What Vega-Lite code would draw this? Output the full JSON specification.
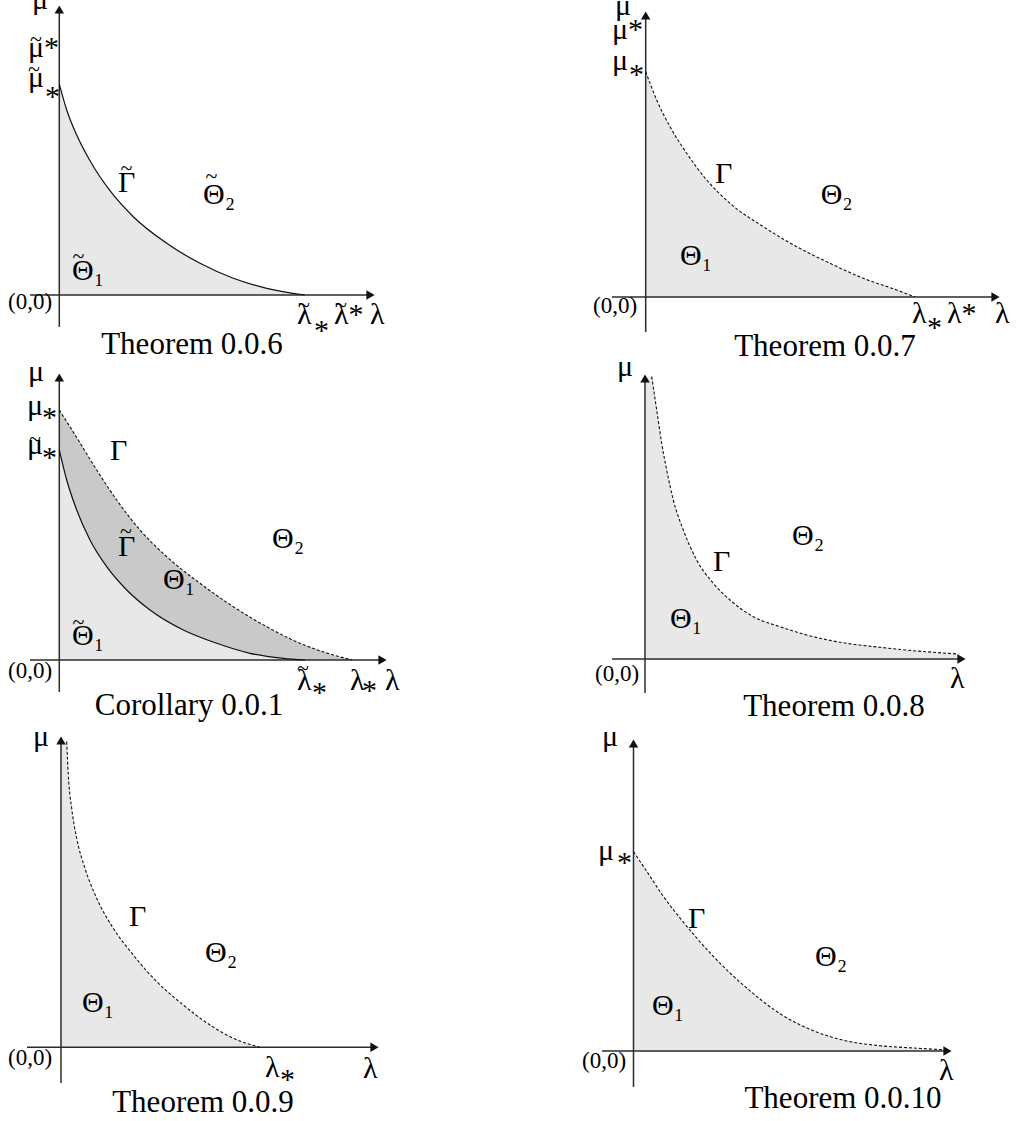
{
 "$schema": "https://vega.github.io/schema/vega-lite/v6.json",
 "background": "white",
 "padding": 0,
 "config": {"view": {"stroke": null}},
 "datasets": {
  "curves": [
   {"panel":1,"part":"curve","lam":0,"mu":2.11},{"panel":1,"part":"curve","lam":0.074,"mu":1.85},{"panel":1,"part":"curve","lam":0.174,"mu":1.6},{"panel":1,"part":"curve","lam":0.307,"mu":1.343},{"panel":1,"part":"curve","lam":0.507,"mu":1.043},{"panel":1,"part":"curve","lam":0.74,"mu":0.783},{"panel":1,"part":"curve","lam":1.074,"mu":0.517},{"panel":1,"part":"curve","lam":1.407,"mu":0.317},{"panel":1,"part":"curve","lam":1.74,"mu":0.167},{"panel":1,"part":"curve","lam":2.074,"mu":0.067},{"panel":1,"part":"curve","lam":2.457,"mu":0},
   {"panel":2,"part":"curve","lam":0,"mu":2.253},{"panel":2,"part":"curve","lam":0.11,"mu":1.97},{"panel":2,"part":"curve","lam":0.243,"mu":1.703},{"panel":2,"part":"curve","lam":0.41,"mu":1.437},{"panel":2,"part":"curve","lam":0.61,"mu":1.17},{"panel":2,"part":"curve","lam":0.843,"mu":0.937},{"panel":2,"part":"curve","lam":1.176,"mu":0.703},{"panel":2,"part":"curve","lam":1.51,"mu":0.503},{"panel":2,"part":"curve","lam":1.843,"mu":0.337},{"panel":2,"part":"curve","lam":2.176,"mu":0.187},{"panel":2,"part":"curve","lam":2.51,"mu":0.07},{"panel":2,"part":"curve","lam":2.693,"mu":0},
   {"panel":3,"part":"outer","lam":0,"mu":2.5},{"panel":3,"part":"outer","lam":0.174,"mu":2.225},{"panel":3,"part":"outer","lam":0.374,"mu":1.9},{"panel":3,"part":"outer","lam":0.574,"mu":1.6},{"panel":3,"part":"outer","lam":0.807,"mu":1.3},{"panel":3,"part":"outer","lam":1.074,"mu":1.033},{"panel":3,"part":"outer","lam":1.407,"mu":0.767},{"panel":3,"part":"outer","lam":1.74,"mu":0.533},{"panel":3,"part":"outer","lam":2.074,"mu":0.333},{"panel":3,"part":"outer","lam":2.407,"mu":0.167},{"panel":3,"part":"outer","lam":2.74,"mu":0.05},{"panel":3,"part":"outer","lam":2.924,"mu":0},
   {"panel":3,"part":"inner","lam":0,"mu":2.1},{"panel":3,"part":"inner","lam":0.074,"mu":1.8},{"panel":3,"part":"inner","lam":0.174,"mu":1.5},{"panel":3,"part":"inner","lam":0.307,"mu":1.2},{"panel":3,"part":"inner","lam":0.474,"mu":0.933},{"panel":3,"part":"inner","lam":0.674,"mu":0.7},{"panel":3,"part":"inner","lam":0.907,"mu":0.5},{"panel":3,"part":"inner","lam":1.24,"mu":0.3},{"panel":3,"part":"inner","lam":1.574,"mu":0.167},{"panel":3,"part":"inner","lam":1.907,"mu":0.067},{"panel":3,"part":"inner","lam":2.24,"mu":0.017},{"panel":3,"part":"inner","lam":2.457,"mu":0},
   {"panel":4,"part":"curve","lam":0.067,"mu":2.823},{"panel":4,"part":"curve","lam":0.117,"mu":2.49},{"panel":4,"part":"curve","lam":0.167,"mu":2.157},{"panel":4,"part":"curve","lam":0.217,"mu":1.89},{"panel":4,"part":"curve","lam":0.283,"mu":1.59},{"panel":4,"part":"curve","lam":0.383,"mu":1.29},{"panel":4,"part":"curve","lam":0.517,"mu":0.99},{"panel":4,"part":"curve","lam":0.683,"mu":0.757},{"panel":4,"part":"curve","lam":0.85,"mu":0.59},{"panel":4,"part":"curve","lam":1.083,"mu":0.423},{"panel":4,"part":"curve","lam":1.35,"mu":0.323},{"panel":4,"part":"curve","lam":1.683,"mu":0.223},{"panel":4,"part":"curve","lam":2.017,"mu":0.157},{"panel":4,"part":"curve","lam":2.35,"mu":0.117},{"panel":4,"part":"curve","lam":2.683,"mu":0.083},{"panel":4,"part":"curve","lam":3.133,"mu":0.05},
   {"panel":4,"part":"corner","lam":0,"mu":2.823},{"panel":4,"part":"corner","lam":0.075,"mu":2.823},
   {"panel":5,"part":"curve","lam":0.057,"mu":3.057},{"panel":5,"part":"curve","lam":0.073,"mu":2.723},{"panel":5,"part":"curve","lam":0.107,"mu":2.39},{"panel":5,"part":"curve","lam":0.157,"mu":2.09},{"panel":5,"part":"curve","lam":0.24,"mu":1.79},{"panel":5,"part":"curve","lam":0.357,"mu":1.49},{"panel":5,"part":"curve","lam":0.523,"mu":1.19},{"panel":5,"part":"curve","lam":0.723,"mu":0.923},{"panel":5,"part":"curve","lam":0.957,"mu":0.657},{"panel":5,"part":"curve","lam":1.223,"mu":0.423},{"panel":5,"part":"curve","lam":1.49,"mu":0.223},{"panel":5,"part":"curve","lam":1.723,"mu":0.09},{"panel":5,"part":"curve","lam":1.99,"mu":0},
   {"panel":5,"part":"corner","lam":0,"mu":3.057},{"panel":5,"part":"corner","lam":0.062,"mu":3.057},
   {"panel":6,"part":"curve","lam":0,"mu":1.993},{"panel":6,"part":"curve","lam":0.132,"mu":1.797},{"panel":6,"part":"curve","lam":0.298,"mu":1.547},{"panel":6,"part":"curve","lam":0.465,"mu":1.33},{"panel":6,"part":"curve","lam":0.632,"mu":1.13},{"panel":6,"part":"curve","lam":0.798,"mu":0.947},{"panel":6,"part":"curve","lam":0.965,"mu":0.78},{"panel":6,"part":"curve","lam":1.132,"mu":0.63},{"panel":6,"part":"curve","lam":1.465,"mu":0.373},{"panel":6,"part":"curve","lam":1.798,"mu":0.203},{"panel":6,"part":"curve","lam":2.132,"mu":0.1},{"panel":6,"part":"curve","lam":2.465,"mu":0.053},{"panel":6,"part":"curve","lam":2.798,"mu":0.03},{"panel":6,"part":"curve","lam":3.098,"mu":0.013}
  ],
  "axes": [
   {"panel":1,"lam":0,"mu":-0.32,"lam2":0,"mu2":2.86},{"panel":1,"lam":-0.293,"mu":0,"lam2":3.11,"mu2":0},
   {"panel":2,"lam":0,"mu":-0.35,"lam2":0,"mu2":2.82},{"panel":2,"lam":-0.337,"mu":0,"lam2":3.5,"mu2":0},
   {"panel":3,"lam":0,"mu":-0.32,"lam2":0,"mu2":2.83},{"panel":3,"lam":-0.293,"mu":0,"lam2":3.23,"mu2":0},
   {"panel":4,"lam":0,"mu":-0.34,"lam2":0,"mu2":2.81},{"panel":4,"lam":-0.33,"mu":0,"lam2":3.165,"mu2":0},
   {"panel":5,"lam":0,"mu":-0.357,"lam2":0,"mu2":3.07},{"panel":5,"lam":-0.34,"mu":0,"lam2":3.135,"mu2":0},
   {"panel":6,"lam":0,"mu":-0.36,"lam2":0,"mu2":3.075},{"panel":6,"lam":-0.315,"mu":0,"lam2":3.14,"mu2":0}
  ],
  "arrows": [
   {"panel":1,"dir":"up","lam":0,"mu":2.855},{"panel":1,"dir":"right","lam":3.112,"mu":0},
   {"panel":2,"dir":"up","lam":0,"mu":2.815},{"panel":2,"dir":"right","lam":3.498,"mu":0},
   {"panel":3,"dir":"up","lam":0,"mu":2.825},{"panel":3,"dir":"right","lam":3.232,"mu":0},
   {"panel":4,"dir":"up","lam":0,"mu":2.805},{"panel":4,"dir":"right","lam":3.165,"mu":0},
   {"panel":5,"dir":"up","lam":0,"mu":3.068},{"panel":5,"dir":"right","lam":3.135,"mu":0},
   {"panel":6,"dir":"up","lam":0,"mu":3.075},{"panel":6,"dir":"right","lam":3.14,"mu":0}
  ],
  "labels": [
   {"panel":1,"kind":"clip","txt":"\u03bc","lam":-0.273,"mu":2.86},
   {"panel":1,"kind":"sym","txt":"\u03bc*","lam":-0.313,"mu":2.38},
   {"panel":1,"kind":"tilde","txt":"~","lam":-0.233,"mu":2.49},
   {"panel":1,"kind":"sym","txt":"\u03bc","lam":-0.313,"mu":2.08},
   {"panel":1,"kind":"tilde","txt":"~","lam":-0.253,"mu":2.19},
   {"panel":1,"kind":"star","txt":"*","lam":-0.143,"mu":1.89},
   {"panel":1,"kind":"sym","txt":"\u0393","lam":0.587,"mu":1.03},
   {"panel":1,"kind":"tilde","txt":"~","lam":0.672,"mu":1.2},
   {"panel":1,"kind":"sym","txt":"\u0398\u2082","lam":1.437,"mu":0.91},
   {"panel":1,"kind":"tilde","txt":"~","lam":1.522,"mu":1.12},
   {"panel":1,"kind":"sym","txt":"\u0398\u2081","lam":0.127,"mu":0.15},
   {"panel":1,"kind":"tilde","txt":"~","lam":0.192,"mu":0.32},
   {"panel":1,"kind":"sym","txt":"\u03bb","lam":2.377,"mu":-0.29},
   {"panel":1,"kind":"tilde","txt":"~","lam":2.447,"mu":-0.17},
   {"panel":1,"kind":"star","txt":"*","lam":2.547,"mu":-0.45},
   {"panel":1,"kind":"sym","txt":"\u03bb*","lam":2.747,"mu":-0.29},
   {"panel":1,"kind":"tilde","txt":"~","lam":2.817,"mu":-0.17},
   {"panel":1,"kind":"sym","txt":"\u03bb","lam":3.107,"mu":-0.29},
   {"panel":1,"kind":"origin","txt":"(0,0)","lam":-0.513,"mu":-0.14},
   {"panel":1,"kind":"title","txt":"Theorem 0.0.6","lam":1.327,"mu":-0.59},
   {"panel":2,"kind":"clip","txt":"\u03bc","lam":-0.307,"mu":2.82},
   {"panel":2,"kind":"sym","txt":"\u03bc*","lam":-0.337,"mu":2.58},
   {"panel":2,"kind":"sym","txt":"\u03bc","lam":-0.337,"mu":2.27},
   {"panel":2,"kind":"star","txt":"*","lam":-0.167,"mu":2.13},
   {"panel":2,"kind":"sym","txt":"\u0393","lam":0.693,"mu":1.14},
   {"panel":2,"kind":"sym","txt":"\u0398\u2082","lam":1.75,"mu":0.93},
   {"panel":2,"kind":"sym","txt":"\u0398\u2081","lam":0.343,"mu":0.32},
   {"panel":2,"kind":"sym","txt":"\u03bb","lam":2.663,"mu":-0.26},
   {"panel":2,"kind":"star","txt":"*","lam":2.813,"mu":-0.4},
   {"panel":2,"kind":"sym","txt":"\u03bb*","lam":3.013,"mu":-0.26},
   {"panel":2,"kind":"sym","txt":"\u03bb","lam":3.493,"mu":-0.26},
   {"panel":2,"kind":"origin","txt":"(0,0)","lam":-0.527,"mu":-0.16},
   {"panel":2,"kind":"title","txt":"Theorem 0.0.7","lam":1.793,"mu":-0.59},
   {"panel":3,"kind":"sym","txt":"\u03bc","lam":-0.313,"mu":2.79},
   {"panel":3,"kind":"sym","txt":"\u03bc","lam":-0.323,"mu":2.45},
   {"panel":3,"kind":"star","txt":"*","lam":-0.173,"mu":2.33},
   {"panel":3,"kind":"sym","txt":"\u03bc","lam":-0.323,"mu":2.06},
   {"panel":3,"kind":"tilde","txt":"~","lam":-0.243,"mu":2.14},
   {"panel":3,"kind":"star","txt":"*","lam":-0.173,"mu":1.93},
   {"panel":3,"kind":"sym","txt":"\u0393","lam":0.507,"mu":2.0},
   {"panel":3,"kind":"sym","txt":"\u0393","lam":0.587,"mu":1.04},
   {"panel":3,"kind":"tilde","txt":"~","lam":0.667,"mu":1.22},
   {"panel":3,"kind":"sym","txt":"\u0398\u2081","lam":1.037,"mu":0.71},
   {"panel":3,"kind":"sym","txt":"\u0398\u2082","lam":2.127,"mu":1.12},
   {"panel":3,"kind":"sym","txt":"\u0398\u2081","lam":0.127,"mu":0.15},
   {"panel":3,"kind":"tilde","txt":"~","lam":0.192,"mu":0.31},
   {"panel":3,"kind":"sym","txt":"\u03bb","lam":2.377,"mu":-0.3},
   {"panel":3,"kind":"tilde","txt":"~","lam":2.437,"mu":-0.15},
   {"panel":3,"kind":"star","txt":"*","lam":2.527,"mu":-0.42},
   {"panel":3,"kind":"sym","txt":"\u03bb","lam":2.907,"mu":-0.3},
   {"panel":3,"kind":"star","txt":"*","lam":3.027,"mu":-0.4},
   {"panel":3,"kind":"sym","txt":"\u03bb","lam":3.257,"mu":-0.3},
   {"panel":3,"kind":"origin","txt":"(0,0)","lam":-0.513,"mu":-0.18},
   {"panel":3,"kind":"title","txt":"Corollary 0.0.1","lam":1.297,"mu":-0.55},
   {"panel":4,"kind":"sym","txt":"\u03bc","lam":-0.28,"mu":2.83},
   {"panel":4,"kind":"sym","txt":"\u0393","lam":0.68,"mu":0.88},
   {"panel":4,"kind":"sym","txt":"\u0398\u2082","lam":1.47,"mu":1.14},
   {"panel":4,"kind":"sym","txt":"\u0398\u2081","lam":0.25,"mu":0.31},
   {"panel":4,"kind":"sym","txt":"\u03bb","lam":3.05,"mu":-0.29},
   {"panel":4,"kind":"origin","txt":"(0,0)","lam":-0.5,"mu":-0.22},
   {"panel":4,"kind":"title","txt":"Theorem 0.0.8","lam":1.89,"mu":-0.57},
   {"panel":5,"kind":"sym","txt":"\u03bc","lam":-0.28,"mu":3.013},
   {"panel":5,"kind":"sym","txt":"\u0393","lam":0.68,"mu":1.213},
   {"panel":5,"kind":"sym","txt":"\u0398\u2082","lam":1.44,"mu":0.853},
   {"panel":5,"kind":"sym","txt":"\u0398\u2081","lam":0.21,"mu":0.353},
   {"panel":5,"kind":"sym","txt":"\u03bb","lam":2.04,"mu":-0.297},
   {"panel":5,"kind":"star","txt":"*","lam":2.19,"mu":-0.417},
   {"panel":5,"kind":"sym","txt":"\u03bb","lam":3.02,"mu":-0.307},
   {"panel":5,"kind":"origin","txt":"(0,0)","lam":-0.53,"mu":-0.177},
   {"panel":5,"kind":"title","txt":"Theorem 0.0.9","lam":1.42,"mu":-0.647},
   {"panel":6,"kind":"sym","txt":"\u03bc","lam":-0.315,"mu":3.05},
   {"panel":6,"kind":"sym","txt":"\u03bc","lam":-0.355,"mu":1.91},
   {"panel":6,"kind":"star","txt":"*","lam":-0.165,"mu":1.79},
   {"panel":6,"kind":"sym","txt":"\u0393","lam":0.545,"mu":1.23},
   {"panel":6,"kind":"sym","txt":"\u0398\u2082","lam":1.815,"mu":0.85},
   {"panel":6,"kind":"sym","txt":"\u0398\u2081","lam":0.185,"mu":0.36},
   {"panel":6,"kind":"sym","txt":"\u03bb","lam":3.055,"mu":-0.29},
   {"panel":6,"kind":"origin","txt":"(0,0)","lam":-0.515,"mu":-0.17},
   {"panel":6,"kind":"title","txt":"Theorem 0.0.10","lam":2.095,"mu":-0.57}
  ]
 },
 "columns": 2,
 "spacing": 0,
 "bounds": "flush",
 "align": "each",
 "resolve": {"scale": {"x": "independent", "y": "independent"}},
 "concat": [
    {"width": 510, "height": 362,
     "encoding": {"x": {"field": "lam", "type": "quantitative", "scale": {"domain": [-0.593, 4.507], "nice": false, "zero": false}, "axis": null},
                  "y": {"field": "mu", "type": "quantitative", "scale": {"domain": [-0.67, 2.95], "nice": false, "zero": false}, "axis": null}},
     "layer": [
      {"data": {"name": "curves"}, "transform": [{"filter": "datum.panel==1 && datum.part=='curve'"}], "mark": {"type": "area", "color": "#e8e8e8", "interpolate": "monotone"}, "encoding": {"y2": {"datum": 0}}},
      {"data": {"name": "axes"}, "transform": [{"filter": "datum.panel==1"}], "mark": {"type": "rule", "color": "#2b2b2b", "strokeWidth": 1.5}, "encoding": {"x2": {"field": "lam2"}, "y2": {"field": "mu2"}}},
      {"data": {"name": "curves"}, "transform": [{"filter": "datum.panel==1 && datum.part=='curve'"}], "mark": {"type": "line", "color": "#111", "strokeWidth": 1.2, "interpolate": "monotone"}},
      {"data": {"name": "arrows"}, "transform": [{"filter": "datum.panel==1"}], "mark": {"type": "point", "filled": true, "color": "#111", "size": 90, "opacity": 1}, "encoding": {"shape": {"field": "dir", "type": "nominal", "scale": {"domain": ["up", "right"], "range": ["triangle-up", "triangle-right"]}, "legend": null}}},
      {"data": {"name": "labels"}, "transform": [{"filter": "datum.panel==1 && datum.kind=='clip'"}], "mark": {"type": "text", "clip": true, "font": "Liberation Serif", "fontSize": 30, "align": "left", "baseline": "alphabetic", "color": "#000"}, "encoding": {"text": {"field": "txt"}}},
      {"data": {"name": "labels"}, "transform": [{"filter": "datum.panel==1 && (datum.kind=='sym' || datum.kind=='star')"}], "mark": {"type": "text", "font": "Liberation Serif", "fontSize": 30, "align": "left", "baseline": "alphabetic", "color": "#000"}, "encoding": {"text": {"field": "txt"}}},
      {"data": {"name": "labels"}, "transform": [{"filter": "datum.panel==1 && datum.kind=='tilde'"}], "mark": {"type": "text", "font": "Liberation Serif", "fontSize": 22, "align": "center", "baseline": "alphabetic", "color": "#000"}, "encoding": {"text": {"field": "txt"}}},
      {"data": {"name": "labels"}, "transform": [{"filter": "datum.panel==1 && datum.kind=='origin'"}], "mark": {"type": "text", "font": "Liberation Serif", "fontSize": 23, "align": "left", "baseline": "alphabetic", "color": "#000"}, "encoding": {"text": {"field": "txt"}}},
      {"data": {"name": "labels"}, "transform": [{"filter": "datum.panel==1 && datum.kind=='title'"}], "mark": {"type": "text", "font": "Liberation Serif", "fontSize": 31, "align": "center", "baseline": "alphabetic", "color": "#000"}, "encoding": {"text": {"field": "txt"}}}
     ]},
    {"width": 509, "height": 362,
     "encoding": {"x": {"field": "lam", "type": "quantitative", "scale": {"domain": [-1.357, 3.733], "nice": false, "zero": false}, "axis": null},
                  "y": {"field": "mu", "type": "quantitative", "scale": {"domain": [-0.65, 2.97], "nice": false, "zero": false}, "axis": null}},
     "layer": [
      {"data": {"name": "curves"}, "transform": [{"filter": "datum.panel==2 && datum.part=='curve'"}], "mark": {"type": "area", "color": "#e8e8e8", "interpolate": "monotone"}, "encoding": {"y2": {"datum": 0}}},
      {"data": {"name": "axes"}, "transform": [{"filter": "datum.panel==2"}], "mark": {"type": "rule", "color": "#2b2b2b", "strokeWidth": 1.5}, "encoding": {"x2": {"field": "lam2"}, "y2": {"field": "mu2"}}},
      {"data": {"name": "curves"}, "transform": [{"filter": "datum.panel==2 && datum.part=='curve'"}], "mark": {"type": "line", "color": "#111", "strokeWidth": 1.1, "strokeDash": [3, 2], "interpolate": "monotone"}},
      {"data": {"name": "arrows"}, "transform": [{"filter": "datum.panel==2"}], "mark": {"type": "point", "filled": true, "color": "#111", "size": 90, "opacity": 1}, "encoding": {"shape": {"field": "dir", "type": "nominal", "scale": {"domain": ["up", "right"], "range": ["triangle-up", "triangle-right"]}, "legend": null}}},
      {"data": {"name": "labels"}, "transform": [{"filter": "datum.panel==2 && datum.kind=='clip'"}], "mark": {"type": "text", "clip": true, "font": "Liberation Serif", "fontSize": 30, "align": "left", "baseline": "alphabetic", "color": "#000"}, "encoding": {"text": {"field": "txt"}}},
      {"data": {"name": "labels"}, "transform": [{"filter": "datum.panel==2 && (datum.kind=='sym' || datum.kind=='star')"}], "mark": {"type": "text", "font": "Liberation Serif", "fontSize": 30, "align": "left", "baseline": "alphabetic", "color": "#000"}, "encoding": {"text": {"field": "txt"}}},
      {"data": {"name": "labels"}, "transform": [{"filter": "datum.panel==2 && datum.kind=='origin'"}], "mark": {"type": "text", "font": "Liberation Serif", "fontSize": 23, "align": "left", "baseline": "alphabetic", "color": "#000"}, "encoding": {"text": {"field": "txt"}}},
      {"data": {"name": "labels"}, "transform": [{"filter": "datum.panel==2 && datum.kind=='title'"}], "mark": {"type": "text", "font": "Liberation Serif", "fontSize": 31, "align": "center", "baseline": "alphabetic", "color": "#000"}, "encoding": {"text": {"field": "txt"}}}
     ]},
    {"width": 510, "height": 362,
     "encoding": {"x": {"field": "lam", "type": "quantitative", "scale": {"domain": [-0.593, 4.507], "nice": false, "zero": false}, "axis": null},
                  "y": {"field": "mu", "type": "quantitative", "scale": {"domain": [-0.64, 2.98], "nice": false, "zero": false}, "axis": null}},
     "layer": [
      {"data": {"name": "curves"}, "transform": [{"filter": "datum.panel==3 && datum.part=='outer'"}], "mark": {"type": "area", "color": "#c9c9c9", "interpolate": "monotone"}, "encoding": {"y2": {"datum": 0}}},
      {"data": {"name": "curves"}, "transform": [{"filter": "datum.panel==3 && datum.part=='inner'"}], "mark": {"type": "area", "color": "#e8e8e8", "interpolate": "monotone"}, "encoding": {"y2": {"datum": 0}}},
      {"data": {"name": "axes"}, "transform": [{"filter": "datum.panel==3"}], "mark": {"type": "rule", "color": "#2b2b2b", "strokeWidth": 1.5}, "encoding": {"x2": {"field": "lam2"}, "y2": {"field": "mu2"}}},
      {"data": {"name": "curves"}, "transform": [{"filter": "datum.panel==3 && datum.part=='outer'"}], "mark": {"type": "line", "color": "#111", "strokeWidth": 1.1, "strokeDash": [3, 2], "interpolate": "monotone"}},
      {"data": {"name": "curves"}, "transform": [{"filter": "datum.panel==3 && datum.part=='inner'"}], "mark": {"type": "line", "color": "#111", "strokeWidth": 1.2, "interpolate": "monotone"}},
      {"data": {"name": "arrows"}, "transform": [{"filter": "datum.panel==3"}], "mark": {"type": "point", "filled": true, "color": "#111", "size": 90, "opacity": 1}, "encoding": {"shape": {"field": "dir", "type": "nominal", "scale": {"domain": ["up", "right"], "range": ["triangle-up", "triangle-right"]}, "legend": null}}},
      {"data": {"name": "labels"}, "transform": [{"filter": "datum.panel==3 && (datum.kind=='sym' || datum.kind=='star')"}], "mark": {"type": "text", "font": "Liberation Serif", "fontSize": 30, "align": "left", "baseline": "alphabetic", "color": "#000"}, "encoding": {"text": {"field": "txt"}}},
      {"data": {"name": "labels"}, "transform": [{"filter": "datum.panel==3 && datum.kind=='tilde'"}], "mark": {"type": "text", "font": "Liberation Serif", "fontSize": 22, "align": "center", "baseline": "alphabetic", "color": "#000"}, "encoding": {"text": {"field": "txt"}}},
      {"data": {"name": "labels"}, "transform": [{"filter": "datum.panel==3 && datum.kind=='origin'"}], "mark": {"type": "text", "font": "Liberation Serif", "fontSize": 23, "align": "left", "baseline": "alphabetic", "color": "#000"}, "encoding": {"text": {"field": "txt"}}},
      {"data": {"name": "labels"}, "transform": [{"filter": "datum.panel==3 && datum.kind=='title'"}], "mark": {"type": "text", "font": "Liberation Serif", "fontSize": 31, "align": "center", "baseline": "alphabetic", "color": "#000"}, "encoding": {"text": {"field": "txt"}}}
     ]},
    {"width": 509, "height": 362,
     "encoding": {"x": {"field": "lam", "type": "quantitative", "scale": {"domain": [-1.35, 3.74], "nice": false, "zero": false}, "axis": null},
                  "y": {"field": "mu", "type": "quantitative", "scale": {"domain": [-0.65, 2.97], "nice": false, "zero": false}, "axis": null}},
     "layer": [
      {"data": {"name": "curves"}, "transform": [{"filter": "datum.panel==4 && datum.part=='curve'"}], "mark": {"type": "area", "color": "#e8e8e8", "interpolate": "monotone"}, "encoding": {"y2": {"datum": 0}}},
      {"data": {"name": "curves"}, "transform": [{"filter": "datum.panel==4 && datum.part=='corner'"}], "mark": {"type": "area", "color": "#e8e8e8"}, "encoding": {"y2": {"datum": 0}}},
      {"data": {"name": "axes"}, "transform": [{"filter": "datum.panel==4"}], "mark": {"type": "rule", "color": "#2b2b2b", "strokeWidth": 1.5}, "encoding": {"x2": {"field": "lam2"}, "y2": {"field": "mu2"}}},
      {"data": {"name": "curves"}, "transform": [{"filter": "datum.panel==4 && datum.part=='curve'"}], "mark": {"type": "line", "color": "#111", "strokeWidth": 1.1, "strokeDash": [3, 2], "interpolate": "monotone"}},
      {"data": {"name": "arrows"}, "transform": [{"filter": "datum.panel==4"}], "mark": {"type": "point", "filled": true, "color": "#111", "size": 90, "opacity": 1}, "encoding": {"shape": {"field": "dir", "type": "nominal", "scale": {"domain": ["up", "right"], "range": ["triangle-up", "triangle-right"]}, "legend": null}}},
      {"data": {"name": "labels"}, "transform": [{"filter": "datum.panel==4 && (datum.kind=='sym' || datum.kind=='star')"}], "mark": {"type": "text", "font": "Liberation Serif", "fontSize": 30, "align": "left", "baseline": "alphabetic", "color": "#000"}, "encoding": {"text": {"field": "txt"}}},
      {"data": {"name": "labels"}, "transform": [{"filter": "datum.panel==4 && datum.kind=='origin'"}], "mark": {"type": "text", "font": "Liberation Serif", "fontSize": 23, "align": "left", "baseline": "alphabetic", "color": "#000"}, "encoding": {"text": {"field": "txt"}}},
      {"data": {"name": "labels"}, "transform": [{"filter": "datum.panel==4 && datum.kind=='title'"}], "mark": {"type": "text", "font": "Liberation Serif", "fontSize": 31, "align": "center", "baseline": "alphabetic", "color": "#000"}, "encoding": {"text": {"field": "txt"}}}
     ]},
    {"width": 510, "height": 397,
     "encoding": {"x": {"field": "lam", "type": "quantitative", "scale": {"domain": [-0.61, 4.49], "nice": false, "zero": false}, "axis": null},
                  "y": {"field": "mu", "type": "quantitative", "scale": {"domain": [-0.737, 3.233], "nice": false, "zero": false}, "axis": null}},
     "layer": [
      {"data": {"name": "curves"}, "transform": [{"filter": "datum.panel==5 && datum.part=='curve'"}], "mark": {"type": "area", "color": "#e8e8e8", "interpolate": "monotone"}, "encoding": {"y2": {"datum": 0}}},
      {"data": {"name": "curves"}, "transform": [{"filter": "datum.panel==5 && datum.part=='corner'"}], "mark": {"type": "area", "color": "#e8e8e8"}, "encoding": {"y2": {"datum": 0}}},
      {"data": {"name": "axes"}, "transform": [{"filter": "datum.panel==5"}], "mark": {"type": "rule", "color": "#2b2b2b", "strokeWidth": 1.5}, "encoding": {"x2": {"field": "lam2"}, "y2": {"field": "mu2"}}},
      {"data": {"name": "curves"}, "transform": [{"filter": "datum.panel==5 && datum.part=='curve'"}], "mark": {"type": "line", "color": "#111", "strokeWidth": 1.1, "strokeDash": [3, 2], "interpolate": "monotone"}},
      {"data": {"name": "arrows"}, "transform": [{"filter": "datum.panel==5"}], "mark": {"type": "point", "filled": true, "color": "#111", "size": 90, "opacity": 1}, "encoding": {"shape": {"field": "dir", "type": "nominal", "scale": {"domain": ["up", "right"], "range": ["triangle-up", "triangle-right"]}, "legend": null}}},
      {"data": {"name": "labels"}, "transform": [{"filter": "datum.panel==5 && (datum.kind=='sym' || datum.kind=='star')"}], "mark": {"type": "text", "font": "Liberation Serif", "fontSize": 30, "align": "left", "baseline": "alphabetic", "color": "#000"}, "encoding": {"text": {"field": "txt"}}},
      {"data": {"name": "labels"}, "transform": [{"filter": "datum.panel==5 && datum.kind=='origin'"}], "mark": {"type": "text", "font": "Liberation Serif", "fontSize": 23, "align": "left", "baseline": "alphabetic", "color": "#000"}, "encoding": {"text": {"field": "txt"}}},
      {"data": {"name": "labels"}, "transform": [{"filter": "datum.panel==5 && datum.kind=='title'"}], "mark": {"type": "text", "font": "Liberation Serif", "fontSize": 31, "align": "center", "baseline": "alphabetic", "color": "#000"}, "encoding": {"text": {"field": "txt"}}}
     ]},
    {"width": 509, "height": 397,
     "encoding": {"x": {"field": "lam", "type": "quantitative", "scale": {"domain": [-1.235, 3.855], "nice": false, "zero": false}, "axis": null},
                  "y": {"field": "mu", "type": "quantitative", "scale": {"domain": [-0.7, 3.27], "nice": false, "zero": false}, "axis": null}},
     "layer": [
      {"data": {"name": "curves"}, "transform": [{"filter": "datum.panel==6 && datum.part=='curve'"}], "mark": {"type": "area", "color": "#e8e8e8", "interpolate": "monotone"}, "encoding": {"y2": {"datum": 0}}},
      {"data": {"name": "axes"}, "transform": [{"filter": "datum.panel==6"}], "mark": {"type": "rule", "color": "#2b2b2b", "strokeWidth": 1.5}, "encoding": {"x2": {"field": "lam2"}, "y2": {"field": "mu2"}}},
      {"data": {"name": "curves"}, "transform": [{"filter": "datum.panel==6 && datum.part=='curve'"}], "mark": {"type": "line", "color": "#111", "strokeWidth": 1.1, "strokeDash": [3, 2], "interpolate": "monotone"}},
      {"data": {"name": "arrows"}, "transform": [{"filter": "datum.panel==6"}], "mark": {"type": "point", "filled": true, "color": "#111", "size": 90, "opacity": 1}, "encoding": {"shape": {"field": "dir", "type": "nominal", "scale": {"domain": ["up", "right"], "range": ["triangle-up", "triangle-right"]}, "legend": null}}},
      {"data": {"name": "labels"}, "transform": [{"filter": "datum.panel==6 && (datum.kind=='sym' || datum.kind=='star')"}], "mark": {"type": "text", "font": "Liberation Serif", "fontSize": 30, "align": "left", "baseline": "alphabetic", "color": "#000"}, "encoding": {"text": {"field": "txt"}}},
      {"data": {"name": "labels"}, "transform": [{"filter": "datum.panel==6 && datum.kind=='origin'"}], "mark": {"type": "text", "font": "Liberation Serif", "fontSize": 23, "align": "left", "baseline": "alphabetic", "color": "#000"}, "encoding": {"text": {"field": "txt"}}},
      {"data": {"name": "labels"}, "transform": [{"filter": "datum.panel==6 && datum.kind=='title'"}], "mark": {"type": "text", "font": "Liberation Serif", "fontSize": 31, "align": "center", "baseline": "alphabetic", "color": "#000"}, "encoding": {"text": {"field": "txt"}}}
     ]}
 ]
}
